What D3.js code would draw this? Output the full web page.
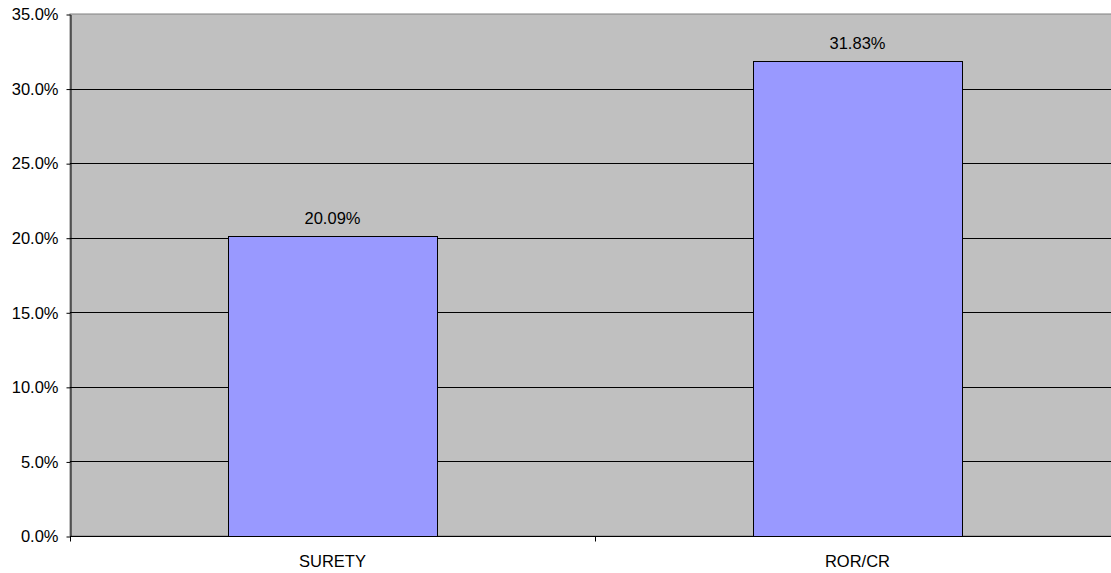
<!DOCTYPE html>
<html>
<head>
<meta charset="utf-8">
<script src="https://cdn.jsdelivr.net/npm/d3@7"></script>
<style>
  html, body { margin: 0; padding: 0; background: #fff; }
  svg { display: block; font-family: "Liberation Sans", Arial, sans-serif; }
</style>
</head>
<body>
<svg id="chart" width="1111" height="573"></svg>
<script>
// Share of cases by release type
const categories = ["SURETY", "ROR/CR"];
const values = [20.09, 31.83];
const yTicks = [0, 5, 10, 15, 20, 25, 30, 35];

const FONT = 16.5;
const svg = d3.select("#chart");
const plot = { left: 70, top: 14, right: 1120, bottom: 536 };

const x = d3.scaleBand()
  .domain(categories)
  .range([plot.left, plot.right])
  .paddingInner(0)
  .paddingOuter(0);

const y = d3.scaleLinear()
  .domain([0, 35])
  .range([plot.bottom, plot.top]);

// plot background
svg.append("rect")
  .attr("x", plot.left).attr("y", plot.top)
  .attr("width", plot.right - plot.left).attr("height", plot.bottom - plot.top)
  .attr("fill", "#C0C0C0")
  .attr("stroke", "#808080").attr("stroke-width", 1);

// horizontal gridlines
svg.append("g")
  .selectAll("line")
  .data(yTicks.filter(t => t > 0 && t < 35))
  .join("line")
  .attr("x1", plot.left).attr("x2", plot.right)
  .attr("y1", d => Math.round(y(d)) + 0.5).attr("y2", d => Math.round(y(d)) + 0.5)
  .attr("stroke", "#000").attr("stroke-width", 1);

// bars
const barW = x.bandwidth() * 0.4;
svg.append("g")
  .selectAll("rect")
  .data(categories)
  .join("rect")
  .attr("x", (d) => Math.round(x(d) + (x.bandwidth() - barW) / 2) + 0.5)
  .attr("y", (d, i) => Math.round(y(values[i])) + 0.5)
  .attr("width", Math.round(barW) - 1)
  .attr("height", (d, i) => Math.round(y(0)) - Math.round(y(values[i])))
  .attr("fill", "#9999FF")
  .attr("stroke", "#000").attr("stroke-width", 1);

// value labels
svg.append("g")
  .selectAll("text")
  .data(categories)
  .join("text")
  .attr("x", d => x(d) + x.bandwidth() / 2)
  .attr("y", (d, i) => y(values[i]) - 12.5)
  .attr("text-anchor", "middle")
  .attr("font-size", FONT)
  .attr("fill", "#000")
  .text((d, i) => values[i].toFixed(2) + "%");

// y axis
const yAxis = d3.axisLeft(y)
  .tickValues(yTicks)
  .tickSize(4)
  .tickSizeOuter(0)
  .tickFormat(d => d.toFixed(1) + "%");
const gy = svg.append("g")
  .attr("transform", `translate(${plot.left + 0.5},0.5)`)
  .call(yAxis);
gy.selectAll(".tick text").attr("font-size", FONT).attr("fill", "#000")
  .attr("font-family", "Liberation Sans, Arial, sans-serif").attr("x", -12);
gy.selectAll(".tick line").attr("stroke", "#000");
gy.select(".domain").attr("stroke", "#000");

// x axis
const gx = svg.append("g")
  .attr("transform", `translate(0,${plot.bottom + 0.5})`);
gx.append("line")
  .attr("x1", plot.left).attr("x2", plot.right)
  .attr("stroke", "#000");
gx.selectAll("line.sep")
  .data(d3.range(categories.length + 1))
  .join("line")
  .attr("class", "sep")
  .attr("x1", i => Math.round(plot.left + i * x.bandwidth()) + 0.5)
  .attr("x2", i => Math.round(plot.left + i * x.bandwidth()) + 0.5)
  .attr("y1", 0).attr("y2", 5)
  .attr("stroke", "#000");
gx.selectAll("text")
  .data(categories)
  .join("text")
  .attr("x", d => x(d) + x.bandwidth() / 2)
  .attr("y", 30.5)
  .attr("text-anchor", "middle")
  .attr("font-size", FONT)
  .attr("fill", "#000")
  .text(d => d);
</script>
</body>
</html>
